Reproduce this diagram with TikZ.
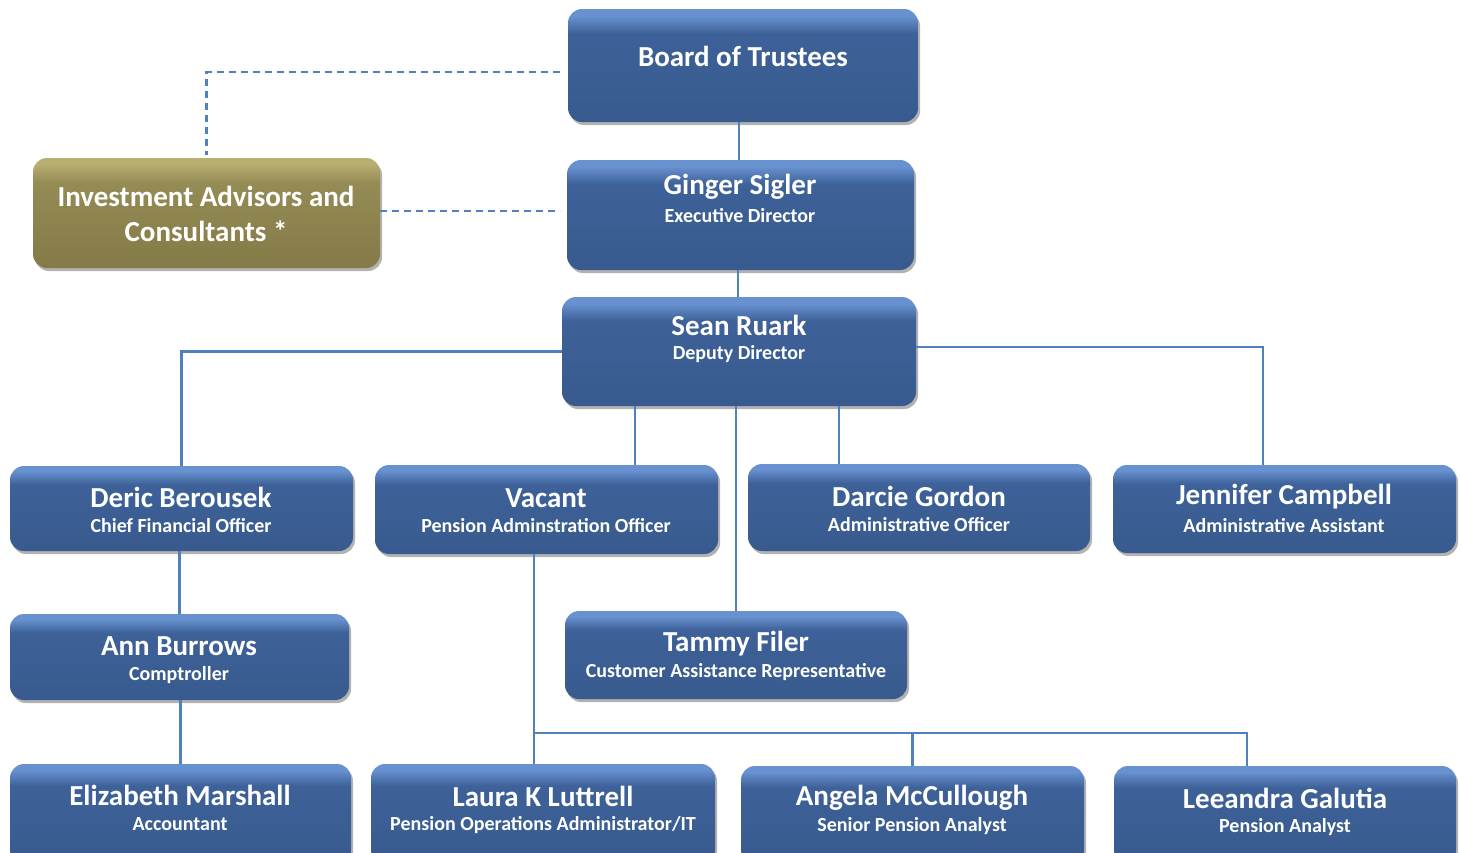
\documentclass[tikz,border=0pt]{standalone}
\usepackage{fontspec}
\setmainfont{Carlito}
\usetikzlibrary{shadows}
\definecolor{bbot}{RGB}{56,90,142}
\definecolor{bmid}{RGB}{61,97,152}
\definecolor{btop}{RGB}{104,145,208}
\definecolor{gbot}{RGB}{132,122,70}
\definecolor{gmid}{RGB}{149,139,85}
\definecolor{gtop}{RGB}{184,174,112}
\definecolor{conncol}{RGB}{79,129,189}
\pgfdeclareverticalshading{boxshade}{100bp}{color(0bp)=(bbot); color(25bp)=(bbot); color(64bp)=(bmid); color(72bp)=(btop); color(100bp)=(btop)}
\pgfdeclareverticalshading{goldshade}{100bp}{color(0bp)=(gbot); color(25bp)=(gbot); color(64bp)=(gmid); color(72bp)=(gtop); color(100bp)=(gtop)}
\tikzset{
  box/.style={rectangle, rounded corners=14pt, shading=boxshade, draw=none, outer sep=0pt, inner sep=0pt,
    drop shadow={shadow xshift=2pt, shadow yshift=-3pt, opacity=0.3, fill=black}},
  goldbox/.style={box, shading=goldshade},
  nm/.style={text=white, font=\bfseries\fontsize{29}{33}\selectfont, inner sep=0pt},
  sb/.style={text=white, font=\bfseries\fontsize{20}{24}\selectfont, inner sep=0pt},
  conn/.style={draw=conncol, line width=2.2pt},
  dashconn/.style={draw=conncol, line width=2.2pt, dash pattern=on 7pt off 5pt}
}
\begin{document}
\begin{tikzpicture}[x=1pt,y=-1pt]
\useasboundingbox (0,0) rectangle (1461,852);
\clip (0,0) rectangle (1461,852);
% boxes
\node[box, minimum width=350pt, minimum height=113pt] (board) at (743,65.5) {};
\node[goldbox, minimum width=347pt, minimum height=110pt] (invest) at (206.5,213) {};
\node[box, minimum width=347pt, minimum height=110pt] (ginger) at (740.5,215) {};
\node[box, minimum width=354pt, minimum height=109pt] (sean) at (739,351.5) {};
\node[box, minimum width=343pt, minimum height=85pt] (deric) at (181.5,508.5) {};
\node[box, minimum width=343pt, minimum height=89pt] (vacant) at (546.5,509.5) {};
\node[box, minimum width=342pt, minimum height=87pt] (darcie) at (919,507.5) {};
\node[box, minimum width=343pt, minimum height=88pt] (jennifer) at (1284.5,509) {};
\node[box, minimum width=339pt, minimum height=86pt] (ann) at (179.5,657) {};
\node[box, minimum width=342pt, minimum height=88pt] (tammy) at (736,655) {};
\node[box, minimum width=341pt, minimum height=100pt] (elizabeth) at (180.5,814) {};
\node[box, minimum width=344pt, minimum height=100pt] (laura) at (543,814) {};
\node[box, minimum width=343pt, minimum height=98pt] (angela) at (912.5,815) {};
\node[box, minimum width=342pt, minimum height=98pt] (leeandra) at (1285,815) {};
% texts
\node[nm] (boardN) at (743,56) {Board of Trustees};
\node[nm] (investN1) at (206,196) {Investment Advisors and};
\node[nm] (investN2) at (206,231) {Consultants *};
\node[nm] (gingerN) at (740,187) {Ginger Sigler};
\node[sb] (gingerS) at (740,216) {Executive Director};
\node[nm] (seanN) at (739,325) {Sean Ruark};
\node[sb] (seanS) at (739,354) {Deputy Director};
\node[nm] (dericN) at (181,497) {Deric Berousek};
\node[sb] (dericS) at (181,526) {Chief Financial Officer};
\node[nm] (vacantN) at (546,498) {Vacant};
\node[sb] (vacantS) at (546,526) {Pension Adminstration Officer};
\node[nm] (darcieN) at (919,496) {Darcie Gordon};
\node[sb] (darcieS) at (919,525) {Administrative Officer};
\node[nm] (jenniferN) at (1284,497) {Jennifer Campbell};
\node[sb] (jenniferS) at (1284,526) {Administrative Assistant};
\node[nm] (annN) at (179,646) {Ann Burrows};
\node[sb] (annS) at (179,675) {Comptroller};
\node[nm] (tammyN) at (736,644) {Tammy Filer};
\node[sb] (tammyS) at (736,672) {Customer Assistance Representative};
\node[nm] (elizabethN) at (180,795) {Elizabeth Marshall};
\node[sb] (elizabethS) at (180,824) {Accountant};
\node[nm] (lauraN) at (543,796) {Laura K Luttrell};
\node[sb] (lauraS) at (543,825) {Pension Operations Administrator/IT};
\node[nm] (angelaN) at (912,798) {Angela McCullough};
\node[sb] (angelaS) at (912,826) {Senior Pension Analyst};
\node[nm] (leeandraN) at (1285,798) {Leeandra Galutia};
\node[sb] (leeandraS) at (1285,827) {Pension Analyst};
% connectors
\coordinate (bus) at (534,733);
\draw[conn] (board.south -| 739,0) -- (ginger.north -| 739,0);
\draw[conn] (ginger.south -| 738,0) -- (sean.north -| 738,0);
\draw[conn] (sean.west) -| (deric.north);
\draw[conn] ([yshift=4.5pt]sean.east) -| ([xshift=-21.5pt]jennifer.north);
\draw[conn] ([xshift=-104pt]sean.south) -- ([xshift=-104pt]sean.south |- vacant.north);
\draw[conn] ([xshift=100pt]sean.south) -- ([xshift=100pt]sean.south |- darcie.north);
\draw[conn] (tammy.north |- sean.south) -- (tammy.north);
\draw[conn] (ann.north |- deric.south) -- (ann.north);
\draw[conn] (elizabeth.north |- ann.south) -- (elizabeth.north);
\draw[conn] (vacant.south -| bus) -- (bus) -- (bus |- laura.north);
\draw[conn] (bus) -| ([xshift=-38pt]leeandra.north);
\draw[conn] (angela.north |- bus) -- (angela.north);
\draw[dashconn] ([xshift=-8pt,yshift=-6.5pt]board.west) -| ([yshift=3pt]invest.north);
\draw[dashconn] ([yshift=2pt]invest.east) -- ([xshift=-7pt,yshift=4pt]ginger.west);
\end{tikzpicture}
\end{document}
